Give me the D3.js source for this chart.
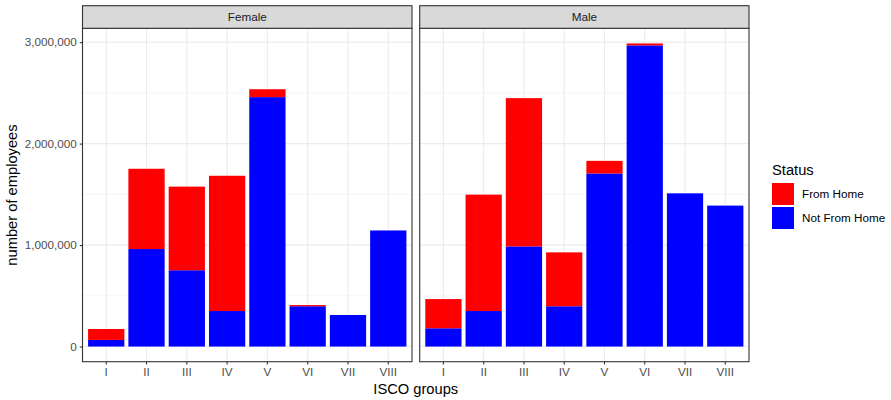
<!DOCTYPE html>
<html>
<head>
<meta charset="utf-8">
<script src="https://cdn.jsdelivr.net/npm/d3@7/dist/d3.min.js"></script>
<style>
    body { margin: 0; background: #fff; }
    svg text { font-family: 'Liberation Sans', Arial, Helvetica, sans-serif; }
</style>
</head>
<body>
<div class="chart-container"></div>
<script>
const groups = ['I', 'II', 'III', 'IV', 'V', 'VI', 'VII', 'VIII'];
const facets = ['Female', 'Male'];
const statuses = ['From Home', 'Not From Home'];

// employees per ISCO group
const femaleNotFromHome = [65000, 961000, 752000, 350000, 2458000, 397000, 311000, 1144000];
const femaleFromHome = [108000, 791000, 824000, 1333000, 78000, 12000, 0, 0];
const maleNotFromHome = [180000, 350000, 987000, 397000, 1706000, 2968000, 1510000, 1389000];
const maleFromHome = [288000, 1147000, 1461000, 531000, 124000, 19000, 0, 0];

const yTicks = [0, 1000000, 2000000, 3000000];
const yMinorTicks = [500000, 1500000, 2500000];
const statusColors = ['#ff0000', '#0000ff'];

const W = 891;
const H = 400;
const panels = [
    { name: facets[0], left: 82.5, right: 412, home: femaleFromHome, notHome: femaleNotFromHome },
    { name: facets[1], left: 419.7, right: 749, home: maleFromHome, notHome: maleNotFromHome },
];
const stripTop = 5.7;
const panelTop = 28.3;
const panelBottom = 361.7;

const svg = d3.select('.chart-container').append('svg')
    .attr('width', W)
    .attr('height', H);

const color = d3.scaleOrdinal().domain(statuses).range(statusColors);

// ggplot style 5% expansion on the stacked totals
const totals = panels.flatMap((p) => p.home.map((v, i) => v + p.notHome[i]));
const yMax = d3.max(totals);
const pad = yMax * 0.05;
const y = d3.scaleLinear()
    .domain([-pad, yMax + pad])
    .range([panelBottom, panelTop]);

const fmt = d3.format(',');

panels.forEach(function (p, pi) {
    const w = p.right - p.left;
    // discrete axis: 0.6 unit padding each side, bars are 0.9 units wide
    const unit = w / (groups.length + 1.2);
    const x = d3.scaleBand()
        .domain(groups)
        .range([p.left + 0.1 * unit, p.right - 0.1 * unit])
        .paddingInner(0.1)
        .paddingOuter(0.05);

    const g = svg.append('g').attr('class', 'panel-' + p.name);

    g.append('rect')
        .attr('x', p.left).attr('y', panelTop)
        .attr('width', w).attr('height', panelBottom - panelTop)
        .attr('fill', '#fff');

    // grid
    g.selectAll('.minor').data(yMinorTicks).enter().append('line')
        .attr('x1', p.left).attr('x2', p.right)
        .attr('y1', (d) => y(d)).attr('y2', (d) => y(d))
        .attr('stroke', '#ebebeb').attr('stroke-width', 0.55);
    g.selectAll('.major').data(yTicks).enter().append('line')
        .attr('x1', p.left).attr('x2', p.right)
        .attr('y1', (d) => y(d)).attr('y2', (d) => y(d))
        .attr('stroke', '#ebebeb').attr('stroke-width', 1.1);
    g.selectAll('.vgrid').data(groups).enter().append('line')
        .attr('x1', (d) => x(d) + x.bandwidth() / 2)
        .attr('x2', (d) => x(d) + x.bandwidth() / 2)
        .attr('y1', panelTop).attr('y2', panelBottom)
        .attr('stroke', '#ebebeb').attr('stroke-width', 1.1);

    // stacked bars
    const rows = groups.map((grp, i) => ({ group: grp, 'Not From Home': p.notHome[i], 'From Home': p.home[i] }));
    const stacked = d3.stack().keys(['Not From Home', 'From Home'])(rows);
    g.selectAll('.layer').data(stacked).enter().append('g')
        .attr('fill', (d) => color(d.key))
        .selectAll('rect').data((d) => d).enter().append('rect')
        .attr('x', (d) => x(d.data.group))
        .attr('width', x.bandwidth())
        .attr('y', (d) => y(d[1]))
        .attr('height', (d) => y(d[0]) - y(d[1]));

    // border
    g.append('rect')
        .attr('x', p.left).attr('y', panelTop)
        .attr('width', w).attr('height', panelBottom - panelTop)
        .attr('fill', 'none').attr('stroke', '#333').attr('stroke-width', 1.1);

    // strip
    g.append('rect')
        .attr('x', p.left).attr('y', stripTop)
        .attr('width', w).attr('height', panelTop - stripTop)
        .attr('fill', '#d9d9d9').attr('stroke', '#333').attr('stroke-width', 1.1);
    g.append('text')
        .attr('x', (p.left + p.right) / 2).attr('y', (stripTop + panelTop) / 2 + 4)
        .attr('text-anchor', 'middle')
        .attr('font-size', '11.7px').attr('fill', '#1a1a1a')
        .text(p.name);

    // x axis
    const xAxis = d3.axisBottom(x).tickSize(2.75).tickPadding(3);
    const xg = svg.append('g')
        .attr('transform', 'translate(0,' + panelBottom + ')')
        .call(xAxis);
    xg.select('.domain').remove();
    xg.selectAll('.tick line').attr('stroke', '#333').attr('stroke-width', 1.1);
    xg.selectAll('.tick text').attr('fill', '#4d4d4d').attr('font-size', '11.7px')
        .attr('font-family', "'Liberation Sans', Arial, sans-serif");

    if (pi === 0) {
        const yAxis = d3.axisLeft(y).tickValues(yTicks).tickFormat(fmt).tickSize(2.75).tickPadding(3);
        const yg = svg.append('g')
            .attr('transform', 'translate(' + p.left + ',0)')
            .call(yAxis);
        yg.select('.domain').remove();
        yg.selectAll('.tick line').attr('stroke', '#333').attr('stroke-width', 1.1);
        yg.selectAll('.tick text').attr('fill', '#4d4d4d').attr('font-size', '11.7px')
            .attr('font-family', "'Liberation Sans', Arial, sans-serif");
    }
});

// axis titles
svg.append('text')
    .attr('x', (panels[0].left + panels[1].right) / 2)
    .attr('y', 394)
    .attr('text-anchor', 'middle')
    .attr('font-size', '14.7px')
    .text('ISCO groups');
svg.append('text')
    .attr('transform', 'translate(17,' + (panelTop + panelBottom) / 2 + ') rotate(-90)')
    .attr('text-anchor', 'middle')
    .attr('font-size', '14.7px')
    .text('number of employees');

// legend
const legend = svg.append('g').attr('transform', 'translate(772,0)');
legend.append('text')
    .attr('x', 0).attr('y', 175)
    .attr('font-size', '14.7px')
    .text('Status');
legend.selectAll('.key').data(statuses).enter().append('rect')
    .attr('x', 0)
    .attr('y', (d, i) => 183 + i * 24)
    .attr('width', 22).attr('height', 22)
    .attr('fill', (d) => color(d));
legend.selectAll('.label').data(statuses).enter().append('text')
    .attr('x', 30)
    .attr('y', (d, i) => 198 + i * 24)
    .attr('font-size', '11.7px')
    .text((d) => d);
</script>
</body>
</html>
